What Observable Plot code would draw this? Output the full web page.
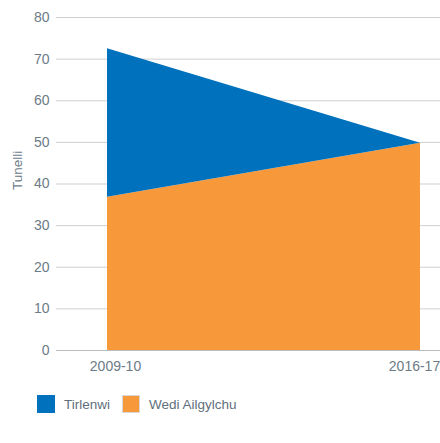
<!DOCTYPE html>
<html>
<head>
<meta charset="utf-8">
<script src="https://cdn.jsdelivr.net/npm/d3@7"></script>
<script src="https://cdn.jsdelivr.net/npm/@observablehq/plot@0.6"></script>
<style>
  body { margin: 0; background: #fff; font-family: "Liberation Sans", Arial, sans-serif; }
  #legend { display: flex; align-items: center; margin: 10px 0 0 37px; font-size: 13.5px; color: #5f6f7c; }
  .item { display: flex; align-items: center; margin-right: 12px; }
  .sw { width: 18px; height: 18px; margin-right: 9px; box-sizing: border-box; }
</style>
</head>
<body>
<div id="chart"></div>
<div id="legend"></div>
<script>
const years = ["2009-10", "2016-17"];
const seriesNames = ["Tirlenwi", "Wedi Ailgylchu"];
const landfill = [35.7, 0];
const recycled = [36.8, 49.8];
const colors = ["#0071bc", "#f7993a"];
const yTicks = [0, 10, 20, 30, 40, 50, 60, 70, 80];

const data = [];
years.forEach((y, i) => data.push({year: y, series: seriesNames[1], value: recycled[i]}));
years.forEach((y, i) => data.push({year: y, series: seriesNames[0], value: landfill[i]}));

const textColor = "#6c7b87";
const plot = Plot.plot({
  width: 440,
  height: 385,
  marginTop: 17,
  marginBottom: 35,
  marginLeft: 56,
  marginRight: 0,
  style: {fontFamily: "'Liberation Sans', Arial, sans-serif", fontSize: "14px", color: textColor},
  x: {type: "point", domain: years, range: [107, 420], padding: 0},
  y: {domain: [0, 80]},
  color: {domain: seriesNames, range: colors},
  marks: [
    Plot.gridY(yTicks, {stroke: "#cfcfcf", strokeOpacity: 1, strokeWidth: 1}),
    Plot.areaY(data, {x: "year", y: "value", fill: "series", z: "series", order: null}),
    Plot.ruleY([0], {stroke: "#bbbbbb", strokeWidth: 1}),
    Plot.axisY(yTicks, {tickSize: 0, tickPadding: 7, label: null, fill: textColor}),
    Plot.axisX([years[0]], {tickSize: 0, tickPadding: 11, dx: 8, label: null, fill: textColor}),
    Plot.axisX([years[1]], {tickSize: 0, tickPadding: 11, dx: -6, label: null, fill: textColor}),
    Plot.text(["Tunelli"], {frameAnchor: "left", rotate: -90, dx: -39, dy: 6, fill: textColor, fontSize: 13.5})
  ]
});
document.getElementById("chart").appendChild(plot);

const legend = document.getElementById("legend");
seriesNames.forEach((s, i) => {
  const item = document.createElement("div");
  item.className = "item";
  const sw = document.createElement("div");
  sw.className = "sw";
  sw.style.background = colors[i];
  if (i === 1) sw.style.border = "1px solid #d8d8d8";
  const t = document.createElement("span");
  t.textContent = s;
  item.appendChild(sw);
  item.appendChild(t);
  legend.appendChild(item);
});
</script>
</body>
</html>
